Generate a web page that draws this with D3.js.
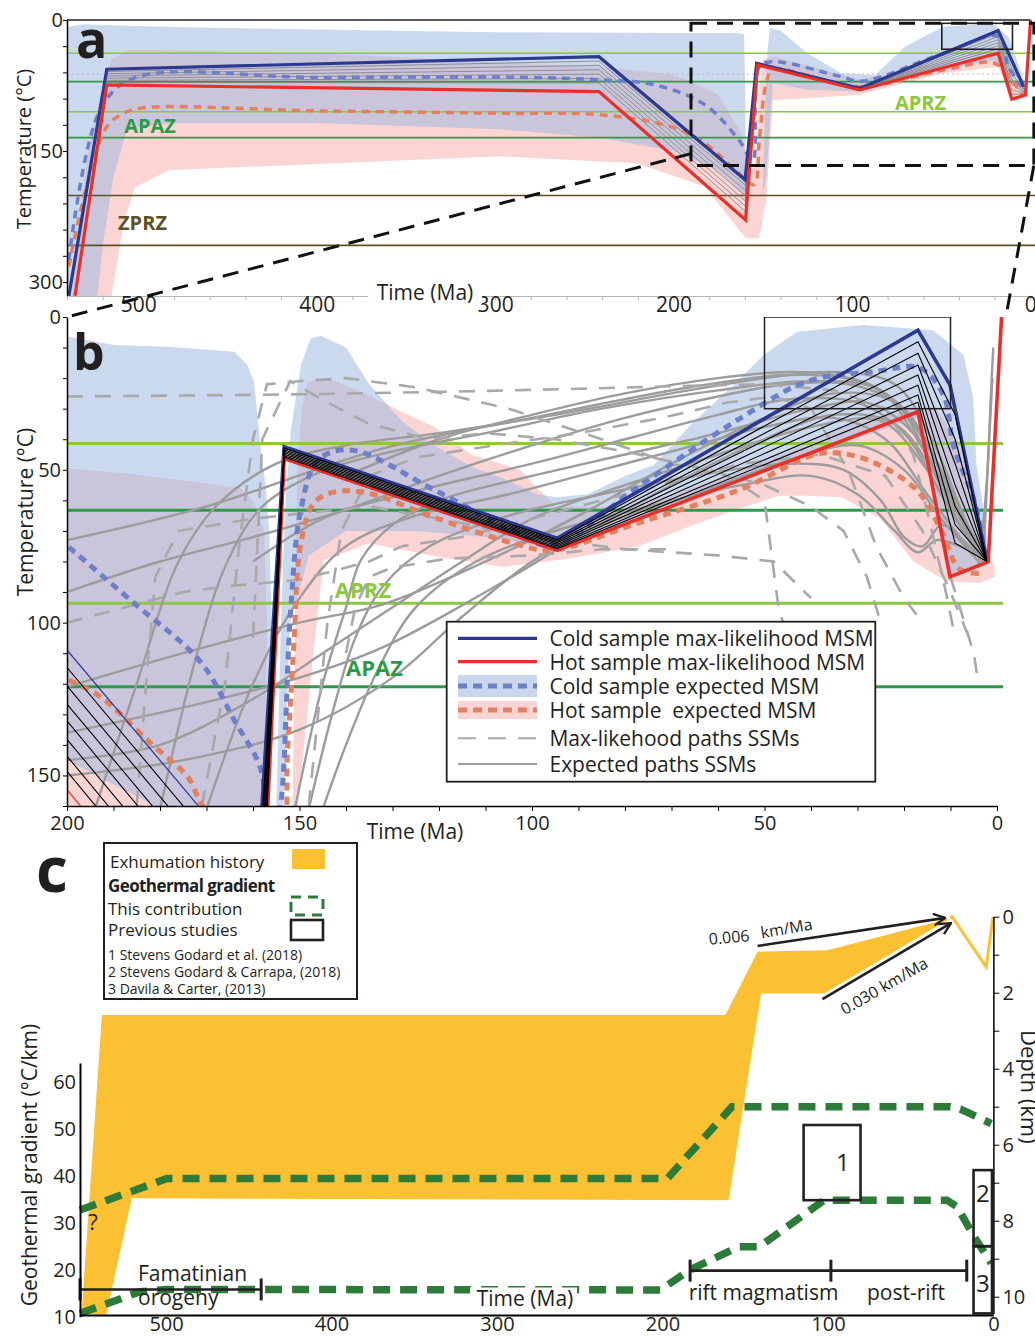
<!DOCTYPE html>
<meta charset="utf-8">
<style>
body { margin: 0; background: #fff; }
svg { display: block; }
text { font-family: "Open Sans", "Noto Sans", sans-serif; fill: #231f20; }
</style>
<body>
<div id="chart"></div>
<script src="https://d3js.org/d3.v7.min.js"></script>
<script>

// ---------------- panel a : time (Ma) vs temperature (°C) ----------------
var aprzA = [38, 105];
var apazA = [70.6, 134.7];
var zprzA = [201, 258];
var coldMaxA = [[539,316.6],[517.7,56.4],[241.8,42],[159.9,183],[153.4,49.6],[95.5,78.2],[18,12.2],[3.7,76.3]];
var hotMaxA = [[535.5,315.8],[517.7,74.4],[241.8,82],[159.6,228.8],[152.9,51.5],[95.5,80.1],[18,38.1],[10.4,90.7],[2.7,85.8],[-0.2,-2]];
var coldExpA = [[539,274.6],[521.4,103],[502.8,66.7],[400,65.8],[286,65.6],[240,68.6],[211,74],[182.5,96.9],[163.4,137.3],[155.7,160.2],[151.9,53.4],[144.3,47.7],[106,64.9],[94.5,70.1],[48.7,38.1],[18,19.1],[12.3,53.4],[4.7,76.3]];
var hotExpA = [[539,282],[529,190.7],[517.7,122],[510,108.7],[499,101],[400,104],[297,106.8],[240,108.7],[201.6,122],[182.5,141],[163.4,175.4],[154.8,188.4],[151.9,137.3],[148,72.4],[144.3,57.2],[96.5,76.3],[48.7,57.2],[20,49.5],[10.4,68.6],[4.7,85.8]];
var fanTimesA = [517.7, 241.8, 159.8, 153.2, 95.5, 18, 10.4, 3.2];
var fanA = [
  [59, 47, 189, 50, 78.5, 15.5, 55, 78],
  [61.5, 52, 195, 50.3, 78.8, 19, 62, 79.5],
  [64, 57, 201, 50.6, 79.1, 22.5, 68, 81],
  [66.5, 62, 207, 50.9, 79.4, 26, 74, 82.5],
  [69, 67, 213, 51.1, 79.6, 29.5, 80, 83.5],
  [71.5, 72, 219, 51.3, 79.8, 33, 85, 84.5]
];
var ssmFlatA = [[540,61.8],[0,61.8]];
var blueEnvA1 = [[540,316],[540,8],[530,5],[515,6],[480,8],[400,11],[300,14],[200,15],[165,15],[160.5,16],[159.8,80],[159.5,202],[163,196],[175,172],[200,150],[240,135],[297,125],[400,118],[480,118],[506.5,124],[508,137],[514,180],[520,260],[523,316]];
var blueEnvA2 = [[150,202],[149,120],[147.5,40],[146,9.5],[140,12],[125,38],[106,61],[87,63],[70,30],[48.7,7.6],[30,5],[20,5.7],[12,20],[6,55],[2.7,76.3],[2.7,84],[10,72],[20,45.8],[48.7,57],[96.5,81.6],[125,80],[144.3,72.4],[146,120],[148,180]];
var pinkEnvA = [[537,316],[533,230],[528,150],[522,90],[515,45],[505,34],[400,38],[300,48],[240,54],[200,62],[175,85],[162,130],[157,175],[154,165],[152,80],[150,45],[143,42],[120,55],[96,68],[70,58],[49,48],[30,38],[18,32],[11,68],[3,72],[2.7,88],[10.4,91.5],[18,53.4],[48.7,61],[96.5,86],[144.3,92],[148,206],[152,250],[159.6,250],[163.4,240],[182.5,190.7],[220.7,164],[297,156],[400,165],[483,172],[502,192],[508,230],[515,316]];
var zoomFrameA = [190.2, -2, 3.8, 166.7];   // t0, t1, T0, T1
var smallBoxA = [49.6, 10, 3.8, 33.5];

// ---------------- panel b : last 200 Ma ----------------
var aprzB = [41.4, 93.7];
var apazB = [63.2, 121];
var coldMaxB = [[239,38.5],[159,183],[153.3,42.4],[94.6,72.4],[17,4.3],[10.1,22.3],[2.2,79.5]];
var hotMaxB = [[239,83],[159,230],[153.3,46.3],[94.6,76.3],[17,31],[10.1,85],[1.9,80.1],[-1,-0.6]];
var coldExpB = [[199.6,75.3],[185.6,93.6],[171.2,113],[164,132],[158.3,148],[157,165],[155.5,170],[154,159],[151.9,96],[149.7,63],[146,46.8],[139,43.5],[121,56.6],[104,70],[95.8,74.8],[77.4,55.8],[55.5,33.4],[40.8,21.1],[26.1,17.8],[16.6,16.7],[11.5,25.6],[9.3,42.4],[4.9,60.2],[2.7,75.9]];
var hotExpB = [[199.6,118.8],[192.7,124.4],[182,139.5],[174,150.6],[171.2,159.1],[163,178],[155,188],[152.5,140],[151.2,106.7],[149.7,74],[146.9,60.9],[142.6,57.3],[135.3,57.6],[121.2,65.5],[104,74],[95.8,76.3],[77.4,67.5],[55.5,56.6],[39.5,45.2],[33.5,44.6],[26.1,47.9],[17,57],[11.8,70.5],[8,82.5],[2.7,83.9]];
var fanTimesB = [239, 159, 153.3, 94.6, 17, 9, 2.2];
var fanB = [
  [44, 189, 42.9, 72.9, 8.1, 32, 79.6],
  [50, 195, 43.4, 73.4, 11.9, 40, 79.6],
  [56, 201, 43.9, 73.9, 15.7, 48, 79.7],
  [61, 207, 44.4, 74.4, 19, 55, 79.8],
  [67, 213, 44.9, 74.9, 22.3, 62, 79.9],
  [72, 219, 45.4, 75.4, 25.5, 68, 79.9],
  [77, 224, 45.9, 75.8, 27.9, 74, 80]
];
var expPathsB = [
  [[200,73],[170,62],[132,43],[100,33],[66,23],[45,19],[30,21],[20,30],[12,50],[6,70],[2,80]],
  [[200,121],[175,110],[150,100],[132,94],[110,80],[90,65],[70,48],[50,33],[35,25],[22,28],[14,45],[8,65],[3,80]],
  [[200,136],[170,126],[150,118],[132,108],[110,90],[90,72],[70,55],[50,40],[35,32],[22,35],[14,50],[8,68],[3,80]],
  [[194,161],[185,120],[176,80],[168,62],[155,48],[140,42],[120,38],[95,32],[70,25],[50,20],[35,18],[22,22],[14,40],[8,62],[3,80]],
  [[180,161],[172,110],[165.5,80],[158,62],[145.4,50.6],[130,44],[110,38],[85,30],[60,24],[40,21],[25,24],[15,42],[8,63],[2,80]],
  [[200,145],[180,140],[160,125],[145,110],[130,95],[115,80],[100,66],[80,55],[60,45],[40,36],[25,34],[16,48],[9,66],[3,80]],
  [[200,150],[175,145],[150,135],[130,118],[115,98],[100,80],[85,68],[65,58],[45,47],[30,42],[20,50],[12,66],[4,80]],
  [[151,161],[145,120],[140,95],[136.8,79.5],[130,68],[120,60],[100,52],[80,45],[60,38],[40,30],[28,28],[18,38],[10,60],[3,80]],
  [[148,161],[143,130],[138,105],[132,88],[122,75],[105,65],[85,58],[65,52],[45,48],[33,50],[25,60],[20,72],[16,75],[12,68],[8,72],[3,80]],
  [[145,161],[140,140],[133,115],[125,95],[112,80],[95,70],[75,62],[55,55],[40,52],[30,58],[22,70],[17,77],[13,73],[8,75],[2,80]],
  [[200,90],[180,80],[160,72],[140,63],[120,52],[100,42],[80,33],[60,26],[45,22],[32,22],[22,28],[15,45],[8,65],[2,80]],
  [[140,52],[120,40],[100,32],[80,25],[60,20],[45,18],[35,19],[25,24],[18,38],[10,60],[3,80]],
  [[160,80],[145,66],[125,57],[100,48],[80,40],[60,32],[45,27],[30,28],[20,38],[12,58],[5,75]],
  [[170,161],[160,120],[150,92],[140,75],[125,65],[105,58],[85,50],[65,42],[50,36],[35,33],[24,40],[15,58],[6,76]],
  [[3,80],[2,50],[1.3,25],[0.8,10]],
  [[4,82],[2.5,60],[1.5,35],[1,20]]
];
var maxPathsB = [
  [[200,26],[175,25.7],[150,25.3],[120,24.5],[90,23.5],[66,22.5],[50,22],[35,24],[24,30],[18,45],[14,70],[11,90],[9,105]],
  [[171,160],[166,120],[163,75],[160,40],[157,22],[150,21],[140,20],[125,23],[105,30],[85,40],[70,48],[58,52],[50,60],[47,95],[46,100]],
  [[160,105],[158,40],[152,21],[144,28],[135,35],[122,40],[110,38],[95,40],[80,44],[62,50],[50,55],[40,62],[33,70],[28,85],[25,100]],
  [[185,160],[183,120],[181,85],[176,70],[160,66],[148,64],[135,62],[120,66],[100,72],[80,76],[60,78],[48,80],[40,92]],
  [[200,100],[190,96],[175,90],[165,88],[150,86],[135,80],[128,75],[115,72],[100,66],[80,58],[55,48],[38,45],[24,52],[16,70],[10,90],[6,105]],
  [[140,110],[138,95],[135,85],[130,82],[118,79],[100,78],[85,76],[70,76]],
  [[148,160],[146,130],[144,100],[141,70],[135,52],[125,46],[108,42],[90,38],[72,33],[58,28],[48,26],[40,30],[32,50],[26,75],[20,92],[16,100]],
  [[10,85],[7,100],[5,110],[4,120]]
];
var blueEnvB1 = [[200,6.4],[189.8,9.2],[178.4,9.7],[164,11.4],[161.2,15.7],[159.8,21.2],[158.3,43],[157.2,56],[156.5,70.3],[156,100],[157.8,160],[179.8,161],[200,145]];
var pinkEnvB1 = [[200,49.5],[187,51.2],[172.6,54],[162.6,56],[159.8,60.4],[157.6,70.3],[157,100],[157.5,161],[200,161]];
var blueEnvB2 = [[155,161],[154,100],[153,60],[151.9,37.5],[149.7,15.7],[147.6,7],[145.4,6.1],[140,10],[135,22],[128,34],[121,42],[113,49],[106,53],[99,58],[94.6,59],[88,58],[80,52],[73.8,48.4],[66,35.4],[55.9,21.2],[50.2,12.4],[43,4.8],[28.7,2.6],[13.7,4.3],[7.2,12.4],[5.1,26.6],[4.4,48.4],[2.2,70.3],[2,80],[10,84],[17,33],[50,50],[94.6,76],[110,72],[125,70],[140,70],[148,78],[152,100],[153.5,161]];
var pinkEnvB2 = [[151.5,161],[151,100],[150.5,50],[149.5,30],[148.3,21.2],[144,20],[136.8,24.4],[128,31],[121,36],[113,45],[102.5,50],[98.9,56],[94.6,62],[88,62],[80,62],[68,57.2],[46.6,45.2],[32.3,35.4],[18,29.9],[13,30],[8,42],[5,60],[2.2,75],[0.5,82],[0.5,85],[3.7,87],[10.8,86.5],[18,80],[25,66],[33.5,59],[41,58.5],[47,58.5],[56,63],[67,69],[77,75],[92,79],[106,81.7],[120,78.5],[135,74],[140,77],[144.8,79.5],[147,110],[149,140],[150.4,161]];
var smallBoxB = [50, 10, 0, 30];
var legendB = ["Cold sample max-likelihood MSM", "Hot sample max-likelihood MSM", "Cold sample expected MSM",
               "Hot sample  expected MSM", "Max-likehood paths SSMs", "Expected paths SSMs"];

// ---------------- panel c : geothermal gradient and exhumation ----------------
var exhTop = [[551,10.44],[538.8,2.59],[162,2.59],[142.5,0.92],[100.2,0.88],[26,0.04]];
var exhBase = [[26,0.04],[102.3,2.02],[140.4,2.02],[160,7.46],[520.7,7.41],[536.2,10.48]];
var exhTail = [[26,0.04],[25,0],[4.35,1.32],[0.2,0]];
var gradUpper = [[552,32.7],[499.5,39.4],[197.1,39.4],[158,54.7],[26,54.7],[20,54.2],[1.3,51.1]];
var gradLower = [[552,10.7],[515.8,15.3],[499.5,15.8],[201.2,15.7],[183.7,19.9],[153.8,24.9],[141.5,24.9],[102.3,34.8],[28.1,34.8],[21.9,33.4],[11.6,27],[1.3,21.4]];
var prevBoxes = [[114.7, 80.3, 34.8, 50.8], [12, 0.85, 25, 41.2], [12, 0.85, 10.7, 25]];
var prevLabels = ["1", "2", "3"];
var famatinianBar = [552, 442.5];
var riftBar = [183.3, 98.2, 16.1];
var barLevels = [15.8, 19.8];
var rateArrows = [[[142.5,0.77],[29.1,0.03]], [[103.3,2.17],[25.6,0.17]]];
var gradTicks = [10, 20, 30, 40, 50, 60];
var timeTicksC = [500, 400, 300, 200, 100, 0];
var refsC = ["1 Stevens Godard et al. (2018)", "2 Stevens Godard & Carrapa, (2018)", "3 Davila & Carter, (2013)"];

// ------------------------------------------------------------------
var W = 1035, H = 1337;
var cBlue = "#2b3990", cRed = "#e8302a", cBlueDash = "#6e7fca", cRedDash = "#e5805f";
var cLight = "#8dc63f", cDark = "#2e9a47", cOlive = "#5b5124", cGray = "#9c9c9c";
var cYellow = "#fbc133", cGreenC = "#2c7b38", cInk = "#231f20";

var svg = d3.select("#chart").append("svg").attr("width", W).attr("height", H);

var xa = d3.scaleLinear().domain([540, 0]).range([67, 1030.3]);
var ya = d3.scaleLinear().domain([0, 316]).range([20, 296]);
var xb = d3.scaleLinear().domain([200, 0]).range([67, 997]);
var yb = d3.scaleLinear().domain([0, 160]).range([317, 806]);
var xc = d3.scaleLinear().domain([552, 0]).range([80, 993.4]);
var gc = d3.scaleLinear().domain([10, 64]).range([1316.7, 1063]);
var dc = d3.scaleLinear().domain([0, 10.45]).range([916.7, 1313.8]);

var defs = svg.append("defs");
function clip(id, x0, y0, x1, y1) {
  defs.append("clipPath").attr("id", id).append("rect")
    .attr("x", x0).attr("y", y0).attr("width", x1 - x0).attr("height", y1 - y0);
}
clip("clipA", 67, 20, 1035, 296);
clip("clipB", 67, 317, 1015, 806);
clip("clipBthick", xb(158.6), 317, 1015, 806);

defs.append("marker").attr("id", "arrow").attr("viewBox", "0 0 12 12")
  .attr("refX", 11).attr("refY", 6).attr("markerWidth", 14).attr("markerHeight", 14)
  .attr("markerUnits", "userSpaceOnUse").attr("orient", "auto")
  .append("path").attr("d", "M1,1 L11,6 L1,11").attr("fill", "none")
  .attr("stroke", cInk).attr("stroke-width", 2);

var smooth = d3.curveCatmullRom.alpha(0.5);
function lineGen(x, y, curve) {
  return d3.line().x(d => x(d[0])).y(d => y(d[1])).curve(curve || d3.curveLinear);
}
function poly(g, pts, x, y, fill, op) {
  g.append("path").attr("d", lineGen(x, y)(pts) + "Z").attr("fill", fill).attr("fill-opacity", op);
}
function path(g, pts, x, y, stroke, width, dash, curve) {
  return g.append("path").attr("d", lineGen(x, y, curve)(pts)).attr("fill", "none")
    .attr("stroke", stroke).attr("stroke-width", width)
    .attr("stroke-dasharray", dash || null);
}
function label(g, txt, x, y, size, opts) {
  opts = opts || {};
  var t = g.append("text").attr("x", x).attr("y", y).attr("font-size", size).text(txt)
    .attr("text-anchor", opts.anchor || "start");
  if (opts.bold) t.attr("font-weight", 700);
  if (opts.fill) t.style("fill", opts.fill);
  if (opts.rotate) t.attr("transform", "rotate(" + opts.rotate + "," + x + "," + y + ")");
  return t;
}
function styleAxis(g, size) {
  g.attr("font-size", size).attr("font-family", null);
  g.selectAll("text").style("fill", cInk);
}

// =================== panel a ===================
var ga = svg.append("g").attr("clip-path", "url(#clipA)");
poly(ga, pinkEnvA, xa, ya, "rgb(246,160,160)", 0.45);
poly(ga, blueEnvA1, xa, ya, "rgb(160,185,226)", 0.55);
poly(ga, blueEnvA2, xa, ya, "rgb(160,185,226)", 0.55);

[[aprzA, cLight], [apazA, cDark], [zprzA, cOlive]].forEach(function(z) {
  z[0].forEach(function(T) {
    ga.append("line").attr("x1", xa(540)).attr("x2", W).attr("y1", ya(T)).attr("y2", ya(T))
      .attr("stroke", z[1]).attr("stroke-width", 1.6);
  });
});
path(ga, ssmFlatA, xa, ya, "#c8b4c8", 1, "2,3");
fanA.forEach(function(row) {
  path(ga, fanTimesA.map((t, i) => [t, row[i]]), xa, ya, "#7d7d7d", 0.8);
});
path(ga, hotExpA, xa, ya, cRedDash, 3.5, "8,6", smooth);
path(ga, coldExpA, xa, ya, cBlueDash, 3.5, "8,6", smooth);
path(ga, coldMaxA, xa, ya, cBlue, 3.2);
path(ga, hotMaxA, xa, ya, cRed, 3.2);
ga.append("rect").attr("x", xa(smallBoxA[0])).attr("y", ya(smallBoxA[2]))
  .attr("width", xa(smallBoxA[1]) - xa(smallBoxA[0])).attr("height", ya(smallBoxA[3]) - ya(smallBoxA[2]))
  .attr("fill", "none").attr("stroke", cInk).attr("stroke-width", 1.6);

// axes a
svg.append("line").attr("x1", xa(540)).attr("x2", xa(0)).attr("y1", ya(0)).attr("y2", ya(0))
  .attr("stroke", cInk).attr("stroke-width", 1.5);
var axAl = svg.append("g").attr("transform", "translate(" + xa(540) + ",0)")
  .call(d3.axisLeft(ya).tickValues(d3.range(0, 301, 30)).tickFormat(d => d % 150 ? "" : d)
    .tickSize(4).tickSizeOuter(0).tickPadding(0));
styleAxis(axAl, 20);
axAl.select(".domain").attr("stroke-width", 1.5);
var axAb = svg.append("g").attr("transform", "translate(0," + ya(316) + ")")
  .call(d3.axisBottom(xa).tickValues(d3.range(0, 541, 20)).tickFormat(d => d % 100 ? "" : d)
    .tickSize(4).tickSizeOuter(0).tickPadding(-3));
styleAxis(axAb, 21);
axAb.selectAll(".domain, line").attr("stroke", "#b5b5b5");
svg.append("rect").attr("x", 368).attr("y", 281).attr("width", 114).attr("height", 23).attr("fill", "#fff");
label(svg, "Time (Ma)", 425, 300, 21, { anchor: "middle" });
label(svg, "Temperature (°C)", 31, 149, 20, { anchor: "middle", rotate: -90 });
label(svg, "a", 76, 58, 52, { bold: true });
label(svg, "APAZ", 150, 133, 20, { anchor: "middle", bold: true, fill: cDark });
label(svg, "ZPRZ", 142.5, 230, 20, { anchor: "middle", bold: true, fill: cOlive });
label(svg, "APRZ", 920.5, 109.5, 20, { anchor: "middle", bold: true, fill: cLight });

// zoom frame and connectors
svg.append("rect").attr("x", xa(zoomFrameA[0])).attr("y", ya(zoomFrameA[2]))
  .attr("width", xa(zoomFrameA[1]) - xa(zoomFrameA[0])).attr("height", ya(zoomFrameA[3]) - ya(zoomFrameA[2]))
  .attr("fill", "none").attr("stroke", "#111").attr("stroke-width", 3).attr("stroke-dasharray", "16,10");
svg.append("line").attr("x1", xa(zoomFrameA[0])).attr("y1", ya(153)).attr("x2", xb(200)).attr("y2", yb(0))
  .attr("stroke", "#111").attr("stroke-width", 3).attr("stroke-dasharray", "16,10");
svg.append("line").attr("x1", xa(zoomFrameA[1])).attr("y1", ya(zoomFrameA[3])).attr("x2", xb(-1.9)).attr("y2", yb(0))
  .attr("stroke", "#111").attr("stroke-width", 3).attr("stroke-dasharray", "16,10");

// =================== panel b ===================
var gb = svg.append("g").attr("clip-path", "url(#clipB)");
poly(gb, pinkEnvB1, xb, yb, "rgb(246,160,160)", 0.45);
poly(gb, pinkEnvB2, xb, yb, "rgb(246,160,160)", 0.45);
poly(gb, blueEnvB1, xb, yb, "rgb(160,185,226)", 0.55);
poly(gb, blueEnvB2, xb, yb, "rgb(160,185,226)", 0.55);
[[aprzB, cLight], [apazB, cDark]].forEach(function(z) {
  z[0].forEach(function(T) {
    gb.append("line").attr("x1", xb(200)).attr("x2", xb(-1.3)).attr("y1", yb(T)).attr("y2", yb(T))
      .attr("stroke", z[1]).attr("stroke-width", 3);
  });
});
expPathsB.forEach(p => path(gb, p, xb, yb, cGray, 2.4, null, smooth));
maxPathsB.forEach(p => path(gb, p, xb, yb, "#a9a9a9", 2.6, "16,12"));
path(gb, hotExpB, xb, yb, cRedDash, 5, "8,6", smooth);
path(gb, coldExpB, xb, yb, cBlueDash, 5, "8,6", smooth);
path(gb, coldMaxB, xb, yb, cBlue, 1.2);
path(gb, hotMaxB, xb, yb, cRed, 1.2);
var gbt = gb.append("g").attr("clip-path", "url(#clipBthick)");
path(gbt, coldMaxB, xb, yb, cBlue, 3.6);
path(gbt, hotMaxB, xb, yb, cRed, 3.6);
fanB.forEach(function(row) {
  path(gb, fanTimesB.map((t, i) => [t, row[i]]), xb, yb, "#000", 1.1);
});
gb.append("rect").attr("x", xb(smallBoxB[0])).attr("y", yb(smallBoxB[2]))
  .attr("width", xb(smallBoxB[1]) - xb(smallBoxB[0])).attr("height", yb(smallBoxB[3]) - yb(smallBoxB[2]))
  .attr("fill", "none").attr("stroke", cInk).attr("stroke-width", 1.5);

label(svg, "APRZ", 363, 598, 22, { anchor: "middle", bold: true, fill: cLight });
label(svg, "APAZ", 374.5, 676, 22, { anchor: "middle", bold: true, fill: cDark });
label(svg, "b", 73, 370, 50, { bold: true });

// legend b
var lg = svg.append("g");
lg.append("rect").attr("x", 446.7).attr("y", 621.7).attr("width", 428.6).attr("height", 160)
  .attr("fill", "#fff").attr("stroke", cInk).attr("stroke-width", 1.8);
var rowY = [638.3, 661.7, 686, 710, 738.3, 764];
lg.append("rect").attr("x", 458).attr("y", 675).attr("width", 79).attr("height", 22).attr("fill", "rgb(200,214,238)");
lg.append("rect").attr("x", 458).attr("y", 701).attr("width", 79).attr("height", 18).attr("fill", "rgb(251,212,212)");
var sample = [
  [cBlue, 3.2, null], [cRed, 3.2, null], [cBlueDash, 5, "9,6"], [cRedDash, 5, "9,6"], ["#a9a9a9", 2, "18,12"], [cGray, 2, null]
];
var fit = null;
legendB.forEach(function(txt, i) {
  lg.append("line").attr("x1", 458).attr("x2", 537).attr("y1", rowY[i]).attr("y2", rowY[i])
    .attr("stroke", sample[i][0]).attr("stroke-width", sample[i][1]).attr("stroke-dasharray", sample[i][2]);
  var t = label(lg, txt, 549.5, rowY[i] + 8, 22).style("white-space", "pre");
  var len = t.node().getComputedTextLength();
  if (fit === null) fit = 324 / len;
  t.attr("textLength", len * fit).attr("lengthAdjust", "spacingAndGlyphs");
});

// axes b
var axBl = svg.append("g").attr("transform", "translate(" + xb(200) + ",0)")
  .call(d3.axisLeft(yb).tickValues(d3.range(0, 161, 10)).tickFormat(d => d % 50 ? "" : d)
    .tickSize(4).tickSizeOuter(0).tickPadding(2));
styleAxis(axBl, 20);
axBl.select(".domain").attr("stroke-width", 1.5);
var axBb = svg.append("g").attr("transform", "translate(0," + yb(160) + ")")
  .call(d3.axisBottom(xb).tickValues(d3.range(0, 201, 10)).tickFormat(d => d % 50 ? "" : d)
    .tickSize(5).tickSizeOuter(0).tickPadding(5));
styleAxis(axBb, 20);
axBb.select(".domain").attr("stroke-width", 1.5);
label(svg, "Time (Ma)", 415, 839, 21, { anchor: "middle" });
label(svg, "Temperature (°C)", 33, 512, 21, { anchor: "middle", rotate: -90 });

// =================== panel c ===================
var gcp = svg.append("g");
poly(gcp, exhTop.concat(exhBase), xc, dc, cYellow, 1);
path(gcp, exhTail, xc, dc, cYellow, 3);
path(gcp, gradUpper, xc, gc, cGreenC, 7.5, "17,10");
path(gcp, gradLower, xc, gc, cGreenC, 7.5, "17,10");

prevBoxes.forEach(function(b, i) {
  var x0 = xc(b[0]), x1 = xc(b[1]), y0 = gc(b[3]), y1 = gc(b[2]);
  gcp.append("rect").attr("x", x0).attr("y", y0).attr("width", x1 - x0).attr("height", y1 - y0)
    .attr("fill", "none").attr("stroke", cInk).attr("stroke-width", 2.6);
  var fx = i === 0 ? 0.69 : 0.5, fy = [0.49, 0.3, 0.55][i];
  label(gcp, prevLabels[i], x0 + fx * (x1 - x0), y0 + fy * (y1 - y0) + 9, 24, { anchor: "middle" });
});

function bar(ts, level) {
  var y = gc(level);
  gcp.append("line").attr("x1", xc(ts[0])).attr("x2", xc(ts[ts.length - 1])).attr("y1", y).attr("y2", y)
    .attr("stroke", cInk).attr("stroke-width", 2.6);
  ts.forEach(function(t) {
    gcp.append("line").attr("x1", xc(t)).attr("x2", xc(t)).attr("y1", y - 11).attr("y2", y + 11)
      .attr("stroke", cInk).attr("stroke-width", 3);
  });
}
bar(famatinianBar, barLevels[0]);
bar(riftBar, barLevels[1]);

rateArrows.forEach(function(a) {
  path(gcp, a, xc, dc, cInk, 2.6).attr("marker-end", "url(#arrow)");
});
label(gcp, "0.006", 729.6, 943, 16, { anchor: "middle", rotate: -5 });
label(gcp, "km/Ma", 787.5, 934, 16, { anchor: "middle", rotate: -10 });
label(gcp, "0.030 km/Ma", 887, 991, 16, { anchor: "middle", rotate: -30 });

label(gcp, "Famatinian", 138, 1281, 21);
label(gcp, "orogeny", 138, 1305, 21);
label(gcp, "rift magmatism", 763.5, 1300, 21, { anchor: "middle" });
label(gcp, "post-rift", 906, 1300, 21, { anchor: "middle" });
label(gcp, "?", 93, 1230, 22, { anchor: "middle" });
gcp.append("rect").attr("x", 470).attr("y", 1287.5).attr("width", 107).attr("height", 25).attr("fill", "#fff");
label(gcp, "Time (Ma)", 525, 1306, 21, { anchor: "middle" });

// axes c
var axCl = svg.append("g").attr("transform", "translate(" + xc(552) + ",0)")
  .call(d3.axisLeft(gc).tickValues(gradTicks).tickSize(0).tickSizeOuter(0).tickPadding(4));
styleAxis(axCl, 20);
axCl.select(".domain").attr("stroke-width", 2);
var axCb = svg.append("g").attr("transform", "translate(0,1315)")
  .call(d3.axisBottom(xc).tickValues(timeTicksC).tickSize(0).tickSizeOuter(0).tickPadding(2));
styleAxis(axCb, 20);
axCb.select(".domain").attr("stroke-width", 2);
var axCr = svg.append("g").attr("transform", "translate(" + xc(0) + ",0)")
  .call(d3.axisRight(dc).tickValues(d3.range(0, 11, 1)).tickFormat(d => d % 2 ? "" : d)
    .tickSize(6).tickSizeOuter(0).tickPadding(3));
styleAxis(axCr, 20);
axCr.select(".domain").attr("stroke-width", 1.5);
label(svg, "Geothermal gradient (°C/km)", 37, 1165, 21, { anchor: "middle", rotate: -90 });
label(svg, "Depth (km)", 1021, 1030, 22, { rotate: 90 });
label(svg, "c", 36, 892, 62, { bold: true });

// legend c
var lc = svg.append("g");
lc.append("rect").attr("x", 104).attr("y", 843).attr("width", 253).attr("height", 156)
  .attr("fill", "#fff").attr("stroke", cInk).attr("stroke-width", 2);
label(lc, "Exhumation history", 110, 868, 17);
lc.append("rect").attr("x", 292).attr("y", 849).attr("width", 33).attr("height", 20).attr("fill", cYellow);
label(lc, "Geothermal gradient", 108, 892, 17, { bold: true }).attr("letter-spacing", -0.6);
label(lc, "This contribution", 108, 915, 17);
lc.append("rect").attr("x", 291).attr("y", 897).attr("width", 32).attr("height", 18)
  .attr("fill", "none").attr("stroke", cGreenC).attr("stroke-width", 3).attr("stroke-dasharray", "10,7");
label(lc, "Previous studies", 108, 936, 17);
lc.append("rect").attr("x", 291).attr("y", 920).attr("width", 32).attr("height", 20)
  .attr("fill", "none").attr("stroke", cInk).attr("stroke-width", 2.6);
refsC.forEach(function(r, i) { label(lc, r, 108, 960 + i * 17, 14); });

</script>
</body>
